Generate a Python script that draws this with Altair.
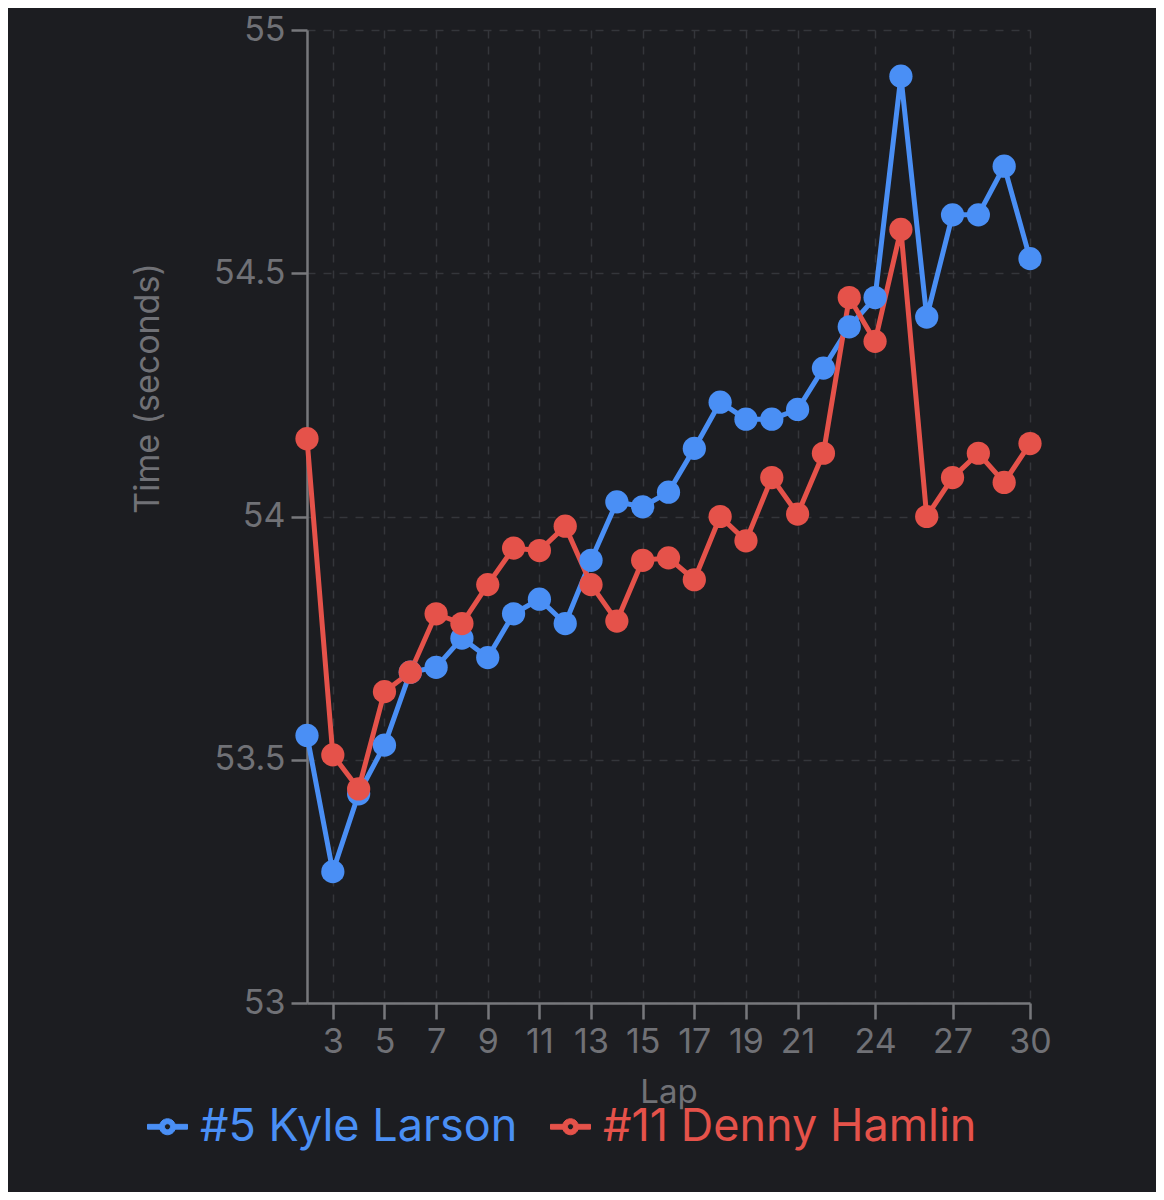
import altair as alt
import pandas as pd

laps = [2, 3, 4, 5, 6, 7, 8, 9, 10, 11, 12, 13, 14, 15, 16, 17, 18, 19, 20,
        21, 22, 23, 24, 25, 26, 27, 28, 29, 30]

larson = [53.55, 53.27, 53.43, 53.53, 53.68, 53.69, 53.75, 53.71, 53.80, 53.83,
          53.78, 53.91, 54.03, 54.02, 54.05, 54.14, 54.235, 54.20, 54.20, 54.22,
          54.305, 54.39, 54.45, 54.905, 54.41, 54.62, 54.62, 54.72, 54.53]

hamlin = [54.16, 53.51, 53.44, 53.64, 53.68, 53.80, 53.78, 53.86, 53.935, 53.93,
          53.98, 53.86, 53.785, 53.91, 53.915, 53.87, 54.00, 53.95, 54.08, 54.005,
          54.13, 54.45, 54.36, 54.59, 54.00, 54.08, 54.13, 54.07, 54.15]

drivers = ["#5 Kyle Larson", "#11 Denny Hamlin"]
colors = ["#4a8ff5", "#e5524a"]
x_ticks = [3, 5, 7, 9, 11, 13, 15, 17, 19, 21, 24, 27, 30]
y_ticks = [53, 53.5, 54, 54.5, 55]

rows = []
for lap, v in zip(laps, larson):
    rows.append({"Lap": lap, "Time": v, "Driver": drivers[0]})
for lap, v in zip(laps, hamlin):
    rows.append({"Lap": lap, "Time": v, "Driver": drivers[1]})
df = pd.DataFrame(rows)

FONT = "Inter"
GRAY = "#707176"
BG = "#1c1d21"

# legend glyph: two bars and a ring (filled shape with a hole)
symbol_path = (
    "M-1,-0.12L-0.3,-0.12L-0.3,0.12L-1,0.12Z"
    "M0.3,-0.12L1,-0.12L1,0.12L0.3,0.12Z"
    "M0.4,0A0.4,0.4,0,1,1,-0.4,0A0.4,0.4,0,1,1,0.4,0Z"
    "M0.15,0A0.15,0.15,0,1,0,-0.15,0A0.15,0.15,0,1,0,0.15,0Z"
)

label_color = alt.ExprRef(
    "datum.label == '#5 Kyle Larson' ? '%s' : '%s'" % (colors[0], colors[1])
)

x_enc = alt.X(
    "Lap:Q",
    scale=alt.Scale(domain=[2, 30], nice=False, zero=False),
    axis=alt.Axis(
        values=x_ticks, title="Lap", titleY=99, titleBaseline="alphabetic",
        titleFontSize=33, labelFlush=False,
    ),
)
y_enc = alt.Y(
    "Time:Q",
    scale=alt.Scale(domain=[53, 55], nice=False, zero=False),
    axis=alt.Axis(
        values=y_ticks, format="~g", title="Time (seconds)",
        titleX=-159, titleY=358, titleAngle=270, titleAlign="center",
        titleBaseline="middle", titleFontSize=34, labelFlush=False,
    ),
)

color_line = alt.Color(
    "Driver:N",
    scale=alt.Scale(domain=drivers, range=colors),
    legend=alt.Legend(
        title=None, orient="none", direction="horizontal",
        legendX=-162, legendY=1074,
        symbolType=symbol_path, symbolSize=1600, symbolStrokeWidth=1,
        labelFontSize=45, labelFont=FONT, labelColor=label_color,
        labelLimit=700, labelOffset=10, columnPadding=30,
    ),
)
fill_pt = alt.Fill("Driver:N", scale=alt.Scale(domain=drivers, range=colors),
                   legend=None)

lines = alt.Chart(df).mark_line(strokeWidth=5).encode(
    x=x_enc, y=y_enc, color=color_line, detail="Driver:N"
)
points = alt.Chart(df).mark_circle(size=540, opacity=1).encode(
    x=x_enc, y=y_enc, fill=fill_pt
)

chart = alt.layer(lines, points).properties(
    width=723,
    height=973,
    autosize=alt.AutoSizeParams(type="none"),
    padding={"left": 299, "top": 22, "right": 126, "bottom": 189},
    background=BG,
).configure_view(
    stroke=None,
).configure_axis(
    labelFont=FONT, titleFont=FONT,
    labelFontSize=34, titleFontSize=30,
    labelColor=GRAY, titleColor=GRAY,
    titleFontWeight="normal",
    domainColor="#77787c", domainWidth=2.5,
    tickColor="#77787c", tickWidth=2.5, tickSize=16,
    gridColor="#34363b", gridDash=[8, 8], gridWidth=1.5,
    labelPadding=6,
)

chart.save("out.html", embed_options={"renderer": "svg", "actions": False})
